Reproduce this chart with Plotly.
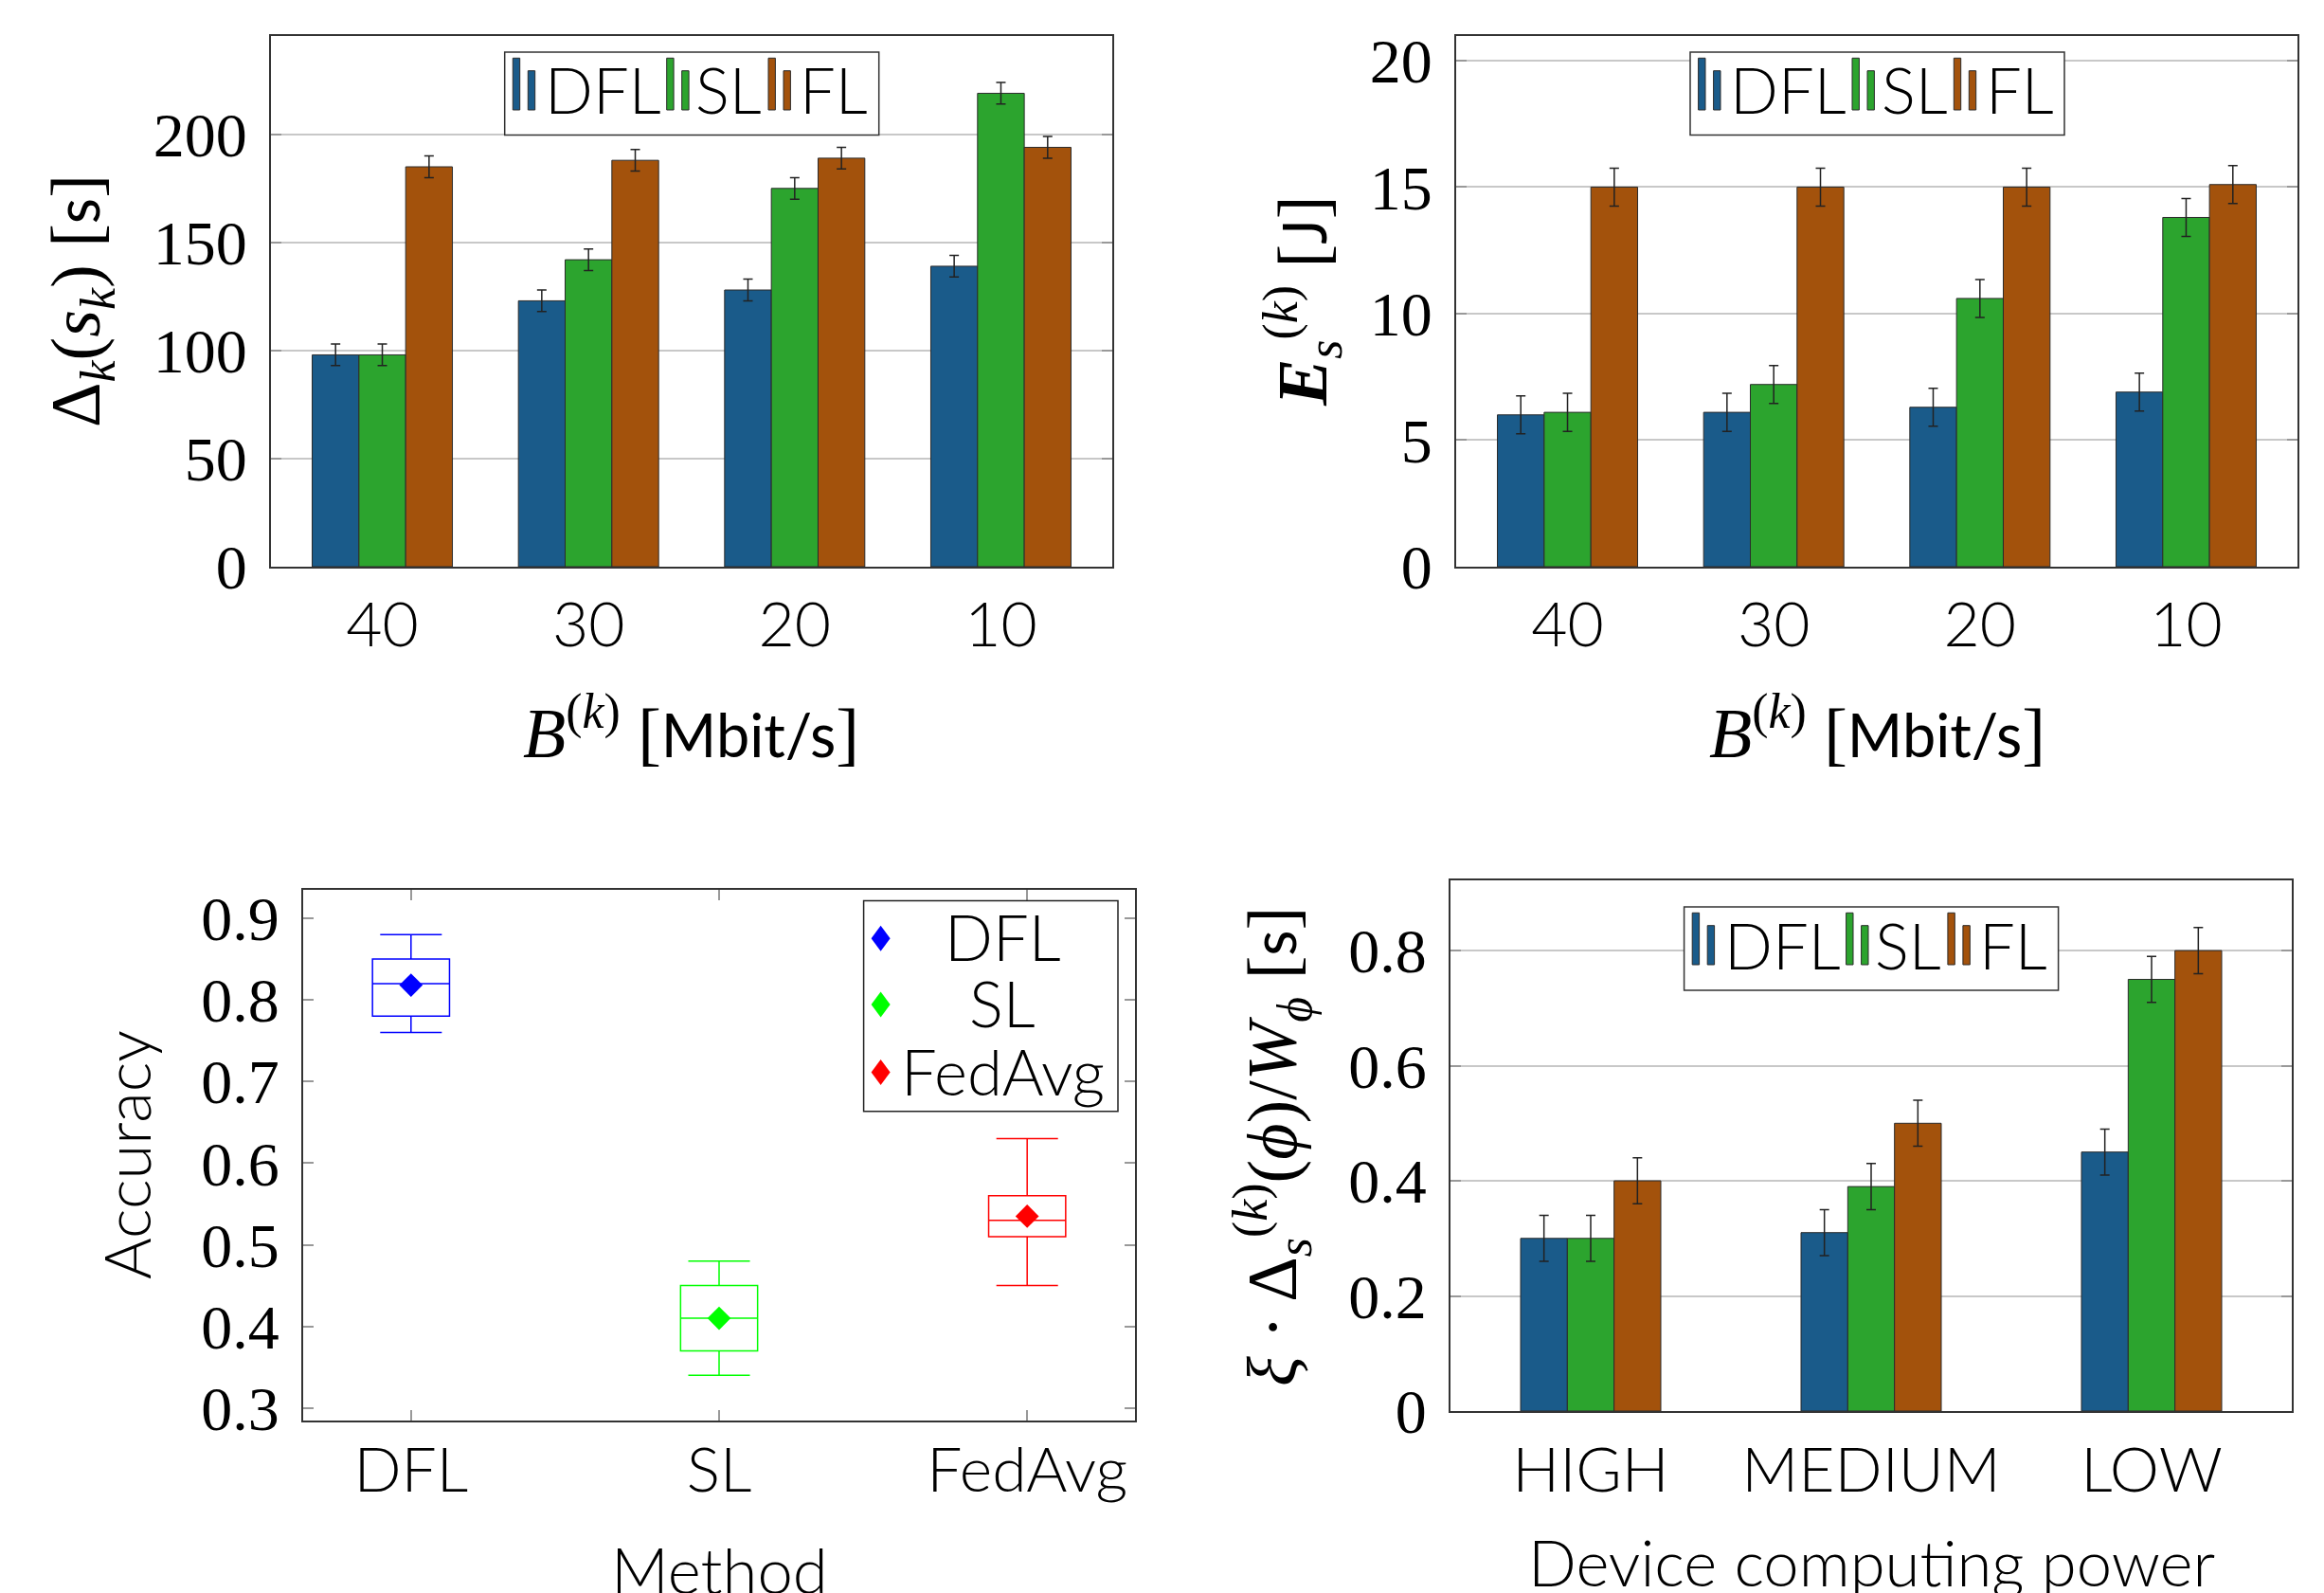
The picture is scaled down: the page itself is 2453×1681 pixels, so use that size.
import plotly.graph_objects as go

W, H = 2453, 1681

# ---------------- data ----------------
series_names = ["DFL", "SL", "FL"]
bandwidth = ["40", "30", "20", "10"]
delay_dfl = [98, 123, 128, 139]
delay_sl = [98, 142, 175, 219]
delay_fl = [185, 188, 189, 194]
delay_err = [5, 5, 5, 5]

energy_dfl = [6.0, 6.1, 6.3, 6.9]
energy_sl = [6.1, 7.2, 10.6, 13.8]
energy_fl = [15.0, 15.0, 15.0, 15.1]
energy_err = [0.75, 0.75, 0.75, 0.75]

power_levels = ["HIGH", "MEDIUM", "LOW"]
comp_dfl = [0.30, 0.31, 0.45]
comp_sl = [0.30, 0.39, 0.75]
comp_fl = [0.40, 0.50, 0.80]
comp_err = [0.04, 0.04, 0.04]

methods = ["DFL", "SL", "FedAvg"]
acc_lower = [0.76, 0.34, 0.45]
acc_q1 = [0.78, 0.37, 0.51]
acc_median = [0.82, 0.41, 0.53]
acc_q3 = [0.85, 0.45, 0.56]
acc_upper = [0.88, 0.48, 0.63]
acc_mean = [0.818, 0.41, 0.535]

# ---------------- style ----------------
bar_colors = ["#1a5b8a", "#2ca42e", "#a3520c"]
box_colors = ["#0000ff", "#00ff00", "#ff0000"]
SERIF = "Liberation Serif"
SANS = "Lato"


def X(p):
    return p / W


def Y(p):
    return 1 - p / H


fig = go.Figure()


def add_bars(cats, series, errs, xa, ya, group_width):
    bw = group_width / len(series)
    for i, (vals, err) in enumerate(zip(series, errs)):
        fig.add_trace(go.Bar(
            x=cats, y=vals, name=series_names[i], xaxis=xa, yaxis=ya,
            width=bw, offset=-group_width / 2 + i * bw,
            marker=dict(color=bar_colors[i], line=dict(color="#2b2b2b", width=1)),
            error_y=dict(type="data", array=err, color="#222222", thickness=1.5, width=5),
            showlegend=False,
        ))


add_bars(bandwidth, [delay_dfl, delay_sl, delay_fl], [delay_err] * 3, "x", "y", 0.68)
add_bars(bandwidth, [energy_dfl, energy_sl, energy_fl], [energy_err] * 3, "x2", "y2", 0.68)
add_bars(power_levels, [comp_dfl, comp_sl, comp_fl], [comp_err] * 3, "x4", "y4", 0.5)

for i, m in enumerate(methods):
    fig.add_trace(go.Box(
        x=[m], q1=[acc_q1[i]], median=[acc_median[i]], q3=[acc_q3[i]],
        lowerfence=[acc_lower[i]], upperfence=[acc_upper[i]],
        orientation="v", xaxis="x3", yaxis="y3", width=0.25, whiskerwidth=0.8,
        line=dict(color=box_colors[i], width=1.5), fillcolor="rgba(0,0,0,0)",
        boxpoints=False, showlegend=False, name=m,
    ))
fig.add_trace(go.Scatter(
    x=methods, y=acc_mean, mode="markers", xaxis="x3", yaxis="y3",
    marker=dict(symbol="diamond", size=19, color=box_colors, line=dict(width=0)),
    showlegend=False,
))

# ---------------- axes ----------------
xtick_font = dict(family=SANS, size=66, color="black", weight=300)
ytick_font = dict(family=SERIF, size=66, color="black")
frame = dict(showline=True, linecolor="#333333", linewidth=2, mirror=True, automargin=False)


def xaxis_bar(dom, anchor, rng, standoff):
    return dict(domain=[X(dom[0]), X(dom[1])], anchor=anchor, type="category",
                range=rng, ticks="", showgrid=False, tickfont=xtick_font,
                ticklabelstandoff=standoff, **frame)


def yaxis_bar(dom, anchor, rng, dtick):
    return dict(domain=[Y(dom[1]), Y(dom[0])], anchor=anchor, range=rng, dtick=dtick,
                tick0=0, ticks="inside", ticklen=11, tickwidth=2, tickcolor="#999999",
                showgrid=True, gridcolor="#c8c8c8", gridwidth=1.5, zeroline=False,
                tickfont=ytick_font, ticklabelstandoff=10, automargin=False,
                showline=True, linecolor="#333333", linewidth=2, mirror="ticks")


fig.update_layout(
    xaxis=xaxis_bar((286, 1174), "y", [-0.54, 3.54], 3),
    yaxis=yaxis_bar((38, 598), "x", [0, 245.5], 50),
    xaxis2=xaxis_bar((1537, 2425), "y2", [-0.54, 3.54], 3),
    yaxis2=yaxis_bar((38, 598), "x2", [0, 20.97], 5),
    xaxis4=xaxis_bar((1531, 2419), "y4", [-0.5, 2.5], 4),
    yaxis4=yaxis_bar((929, 1489), "x4", [0, 0.922], 0.2),
    xaxis3=dict(domain=[X(320), X(1198)], anchor="y3", type="category", range=[-0.35, 2.35],
                ticks="inside", ticklen=11, tickwidth=2, tickcolor="#999999", showgrid=False,
                tickfont=xtick_font, ticklabelstandoff=-6, automargin=False,
                showline=True, linecolor="#333333", linewidth=2, mirror="ticks"),
    yaxis3=dict(domain=[Y(1499), Y(939)], anchor="x3", range=[0.2847, 0.9348], dtick=0.1,
                tick0=0.3, ticks="inside", ticklen=11, tickwidth=2, tickcolor="#999999",
                showgrid=False, zeroline=False, tickfont=ytick_font, ticklabelstandoff=10,
                automargin=False,
                showline=True, linecolor="#333333", linewidth=2, mirror="ticks"),
)

# ---------------- legends (drawn) ----------------
shapes = []
annotations = []


def bar_legend(left, top, width=395, height=87.5):
    shapes.append(dict(type="rect", xref="paper", yref="paper",
                       x0=X(left), x1=X(left + width), y0=Y(top + height), y1=Y(top),
                       line=dict(color="#333333", width=1.5), fillcolor="white", layer="above"))
    icon_off = [8.6, 171, 278.3]
    text_off = [40, 199.5, 309.5]
    for i in range(3):
        o = left + icon_off[i]
        for dx, ytop in ((0, 6.3), (16, 19.7)):
            shapes.append(dict(type="rect", xref="paper", yref="paper",
                               x0=X(o + dx), x1=X(o + dx + 7.4), y0=Y(top + 61), y1=Y(top + ytop),
                               line=dict(color="#2b2b2b", width=1), fillcolor=bar_colors[i],
                               layer="above"))
        annotations.append(dict(xref="paper", yref="paper", x=X(left + text_off[i]),
                                y=Y(top + 39.5), xanchor="left", yanchor="middle",
                                text=series_names[i], showarrow=False,
                                font=dict(family=SANS, size=67, color="black", weight=300)))


bar_legend(532.7, 55)
bar_legend(1784, 55)
bar_legend(1777.6, 957, height=88)

# box plot legend
shapes.append(dict(type="rect", xref="paper", yref="paper",
                   x0=X(911.6), x1=X(1180), y0=Y(1172.8), y1=Y(950.6),
                   line=dict(color="#222222", width=1.5), fillcolor="white", layer="above"))
for i, (m, cy) in enumerate(zip(methods, [990.3, 1060, 1131.5])):
    cx = 929.6
    shapes.append(dict(type="path", xref="paper", yref="paper",
                       path=f"M {X(cx)} {Y(cy - 13.5)} L {X(cx + 10)} {Y(cy)} L {X(cx)} {Y(cy + 13.5)} L {X(cx - 10)} {Y(cy)} Z",
                       fillcolor=box_colors[i], line=dict(width=0), layer="above"))
    annotations.append(dict(xref="paper", yref="paper", x=X(1058), y=Y(cy - 2),
                            xanchor="center", yanchor="middle", text=m, showarrow=False,
                            font=dict(family=SANS, size=67, color="black", weight=300)))

# ---------------- axis titles ----------------
LATO_SPAN = "<span style='font-family:Lato;font-size:63px'>{}</span>"
math_font = dict(family=SERIF, size=74, color="black")
sans_font = dict(family=SANS, size=67, color="black", weight=300)
titles = [
    (730, 769, 0, "<i>B</i><sup>(<i>k</i>)</sup> [" + LATO_SPAN.format("Mbit/s") + "]", math_font),
    (1981, 769, 0, "<i>B</i><sup>(<i>k</i>)</sup> [" + LATO_SPAN.format("Mbit/s") + "]", math_font),
    (86, 318, -90, "Δ<sub><i>k</i></sub>(<i>s</i><sub><i>k</i></sub>) [" + LATO_SPAN.format("s") + "]", math_font),
    (1375, 318, -90, "<b><i>E</i></b><sub><i>s</i></sub><sup>(<i>k</i>)</sup> [" + LATO_SPAN.format("J") + "]", math_font),
    (1343, 1210, -90, "<i>ξ</i> · Δ<sub><i>s</i></sub><sup>(<i>k</i>)</sup>(<i>ϕ</i>)/<i>W</i><sub><i>ϕ</i></sub> [" + LATO_SPAN.format("s") + "]", math_font),
    (133, 1219, -90, "Accuracy", sans_font),
    (759, 1656, 0, "Method", sans_font),
    (1975, 1648, 0, "Device computing power", sans_font),
]
for x, y, ang, txt, f in titles:
    annotations.append(dict(xref="paper", yref="paper", x=X(x), y=Y(y), xanchor="center",
                            yanchor="middle", text=txt, textangle=ang, showarrow=False, font=f))

fig.update_layout(
    width=W, height=H, autosize=False,
    margin=dict(l=0, r=0, t=0, b=0, pad=0, autoexpand=False),
    paper_bgcolor="white", plot_bgcolor="white", barmode="group",
    shapes=shapes, annotations=annotations, showlegend=False,
)

fig.write_html("out.html", config={"displayModeBar": False},
               post_script="document.body.style.margin='0';document.body.style.overflow='hidden';")
